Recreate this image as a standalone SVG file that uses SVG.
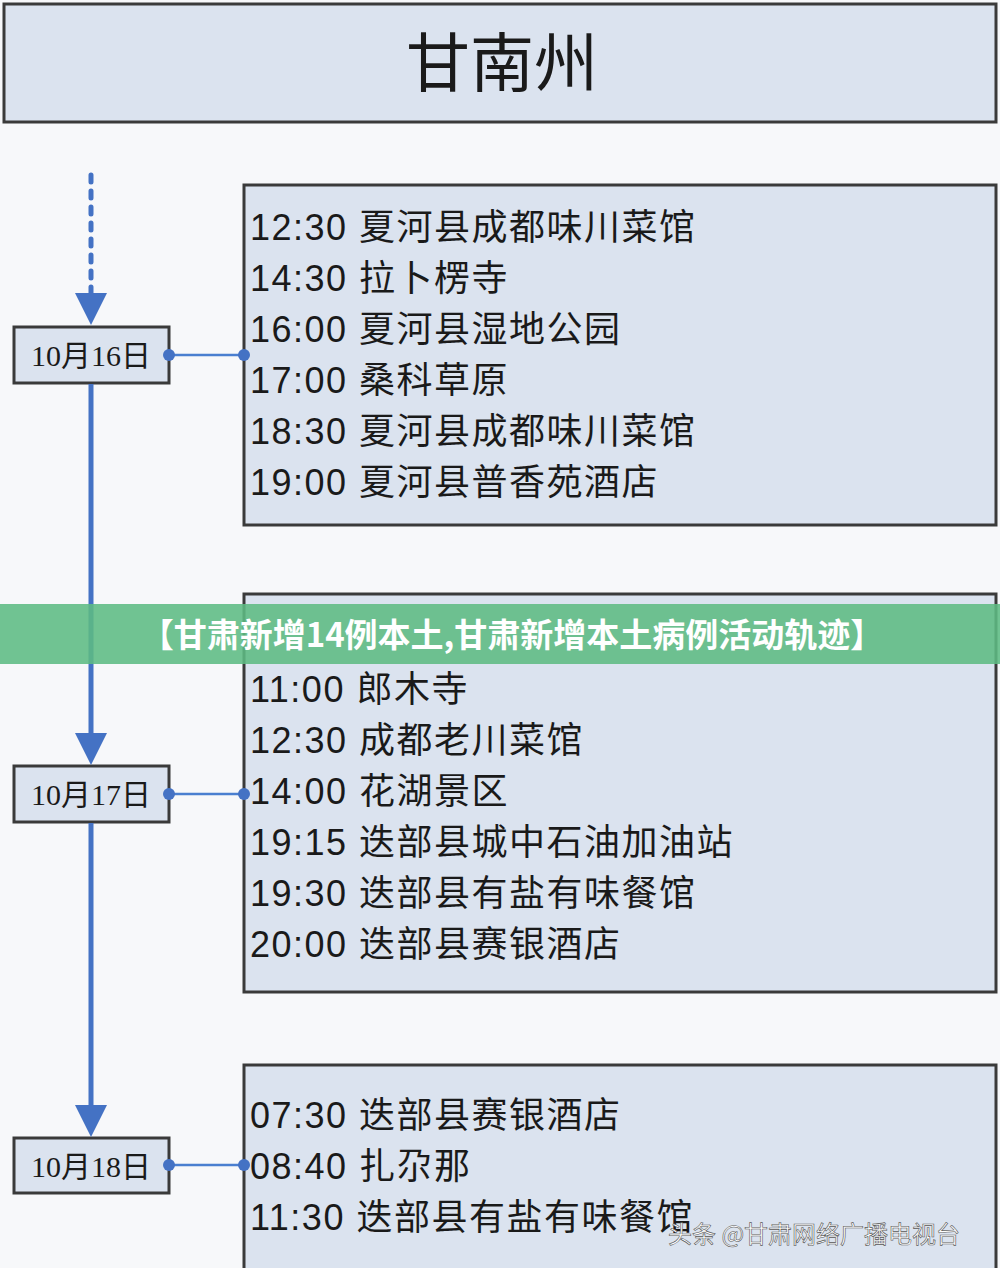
<svg xmlns="http://www.w3.org/2000/svg" width="1000" height="1268" viewBox="0 0 1000 1268">
<defs>
<style>
.box{fill:#dbe3ef;stroke:#3a3a3a;stroke-width:3}
.t{font-family:"Liberation Sans","Noto Sans CJK SC",sans-serif;font-size:36px;letter-spacing:1.5px;fill:#1a1a1a}
.d{font-family:"Liberation Serif","Noto Sans CJK SC",serif;font-size:30px;fill:#1a1a1a}
.ln{stroke:#4472c4;stroke-width:5;fill:none}
.cn{stroke:#4a7fd0;stroke-width:2.5}
.dot{fill:#4472c4}
</style>
</defs>
<rect width="1000" height="1268" fill="#f7f8fa"/>
<g id="title"><rect class="box" x="4" y="4" width="992" height="118"/>
<text x="502" y="86" text-anchor="middle" font-family="Liberation Sans,Noto Sans CJK SC,sans-serif" font-size="64" fill="#1a1a1a">甘南州</text></g>
<g id="d16"><rect class="box" x="14" y="327" width="155" height="56"/><text class="d" x="91" y="366" text-anchor="middle">10月16日</text></g>
<g id="d17"><rect class="box" x="14" y="766" width="155" height="56"/><text class="d" x="91" y="805" text-anchor="middle">10月17日</text></g>
<g id="d18"><rect class="box" x="14" y="1138" width="155" height="55"/><text class="d" x="91" y="1177" text-anchor="middle">10月18日</text></g>
<g id="box16"><rect class="box" x="244" y="185" width="752" height="340"/>
<text class="t" x="250" y="240">12:30 夏河县成都味川菜馆</text>
<text class="t" x="250" y="291">14:30 拉卜楞寺</text>
<text class="t" x="250" y="342">16:00 夏河县湿地公园</text>
<text class="t" x="250" y="393">17:00 桑科草原</text>
<text class="t" x="250" y="444">18:30 夏河县成都味川菜馆</text>
<text class="t" x="250" y="495">19:00 夏河县普香苑酒店</text></g>
<g id="box17"><rect class="box" x="244" y="594" width="752" height="398"/>
<text class="t" x="250" y="702">11:00 郎木寺</text>
<text class="t" x="250" y="753">12:30 成都老川菜馆</text>
<text class="t" x="250" y="804">14:00 花湖景区</text>
<text class="t" x="250" y="855">19:15 迭部县城中石油加油站</text>
<text class="t" x="250" y="906">19:30 迭部县有盐有味餐馆</text>
<text class="t" x="250" y="957">20:00 迭部县赛银酒店</text></g>
<g id="box18"><rect class="box" x="244" y="1065" width="752" height="215"/>
<text class="t" x="250" y="1128">07:30 迭部县赛银酒店</text>
<text class="t" x="250" y="1179">08:40 扎尕那</text>
<text class="t" x="250" y="1230">11:30 迭部县有盐有味餐馆</text></g>
<g id="connectors">
<line class="ln" x1="91" y1="175" x2="91" y2="298" stroke-dasharray="7 9" stroke-linecap="round" stroke-width="6"/>
<path d="M75,293 L107,293 L91,325 z" class="dot"/>
<line class="ln" x1="91" y1="384" x2="91" y2="738"/>
<path d="M75,733 L107,733 L91,765 z" class="dot"/>
<line class="ln" x1="91" y1="823" x2="91" y2="1108"/>
<path d="M75,1105 L107,1105 L91,1137 z" class="dot"/>
<line class="cn" x1="169" y1="355" x2="244" y2="355"/><circle class="dot" cx="169" cy="355" r="6"/><circle class="dot" cx="244" cy="355" r="6"/>
<line class="cn" x1="169" y1="794" x2="244" y2="794"/><circle class="dot" cx="169" cy="794" r="6"/><circle class="dot" cx="244" cy="794" r="6"/>
<line class="cn" x1="169" y1="1165" x2="244" y2="1165"/><circle class="dot" cx="169" cy="1165" r="6"/><circle class="dot" cx="244" cy="1165" r="6"/>
</g>
<g id="banner"><rect x="0" y="604" width="1000" height="60" fill="#5dbb83" opacity="0.88"/>
<text x="512" y="647" text-anchor="middle" font-family="Noto Sans CJK SC,sans-serif" font-weight="bold" font-size="33" fill="#ffffff">【甘肃新增14例本土,甘肃新增本土病例活动轨迹】</text></g>
<text x="668" y="1243" font-family="Noto Sans CJK SC,sans-serif" font-size="24" fill="#ffffff" stroke="#555" stroke-width="0.6">头条 @甘肃网络广播电视台</text>
</svg>
